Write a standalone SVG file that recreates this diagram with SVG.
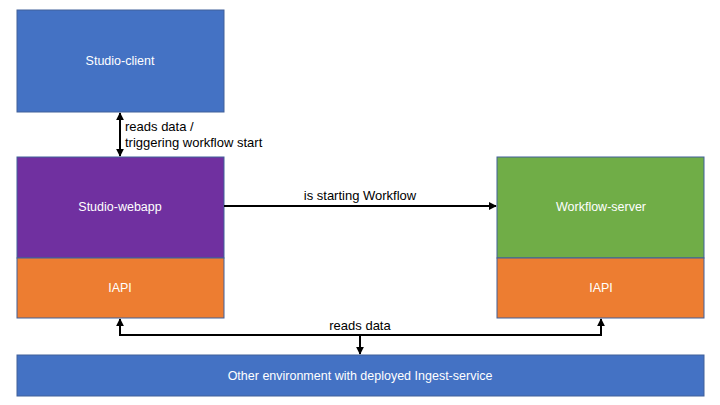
<svg xmlns="http://www.w3.org/2000/svg" width="720" height="405" viewBox="0 0 720 405">
<defs>
<style>
.box{stroke:#41609a;stroke-width:1}
.blue{fill:#4472C4}
.purple{fill:#7030A0}
.green{fill:#70AD47}
.orange{fill:#ED7D31}
.nt{font-family:"Liberation Sans",Arial,sans-serif;font-size:12.5px;fill:#ffffff;text-anchor:middle;dominant-baseline:central}
.lt{font-family:"Liberation Sans",Arial,sans-serif;font-size:13px;fill:#000000}
.c{fill:none;stroke:#000;stroke-width:2}
</style>
<marker id="ah" viewBox="0 0 10 10" refX="9" refY="5" markerWidth="4" markerHeight="4" orient="auto-start-reverse" markerUnits="strokeWidth">
<path d="M0,0 L10,5 L0,10 z" fill="#000"/>
</marker>
</defs>
<rect width="720" height="405" fill="#ffffff"/>
<g id="studio-client">
<rect class="box blue" x="17" y="10" width="207" height="102"/>
<text class="nt" x="120" y="61">Studio-client</text>
</g>
<g id="studio-webapp">
<rect class="box purple" x="17" y="157" width="207" height="101"/>
<text class="nt" x="120" y="207">Studio-webapp</text>
</g>
<g id="iapi-left">
<rect class="box orange" x="17" y="258" width="207" height="60"/>
<text class="nt" x="120" y="288">IAPI</text>
</g>
<g id="workflow-server">
<rect class="box green" x="497" y="157" width="207" height="101"/>
<text class="nt" x="601" y="207">Workflow-server</text>
</g>
<g id="iapi-right">
<rect class="box orange" x="497" y="258" width="207" height="60"/>
<text class="nt" x="601" y="288">IAPI</text>
</g>
<g id="ingest">
<rect class="box blue" x="17" y="355" width="687" height="41"/>
<text class="nt" x="360" y="376">Other environment with deployed Ingest-service</text>
</g>
<g id="connectors">
<line class="c" x1="120" y1="113" x2="120" y2="156" marker-start="url(#ah)" marker-end="url(#ah)"/>
<text class="lt" x="125" y="131">reads data /</text>
<text class="lt" x="125" y="147">triggering workflow start</text>
<line class="c" x1="224" y1="206" x2="496" y2="206" marker-end="url(#ah)"/>
<text class="lt" x="360" y="200" text-anchor="middle">is starting Workflow</text>
<polyline class="c" points="120,319 120,335 601,335 601,319" marker-start="url(#ah)" marker-end="url(#ah)"/>
<line class="c" x1="360" y1="335" x2="360" y2="354" marker-end="url(#ah)"/>
<text class="lt" x="360" y="330" text-anchor="middle">reads data</text>
</g>
</svg>
